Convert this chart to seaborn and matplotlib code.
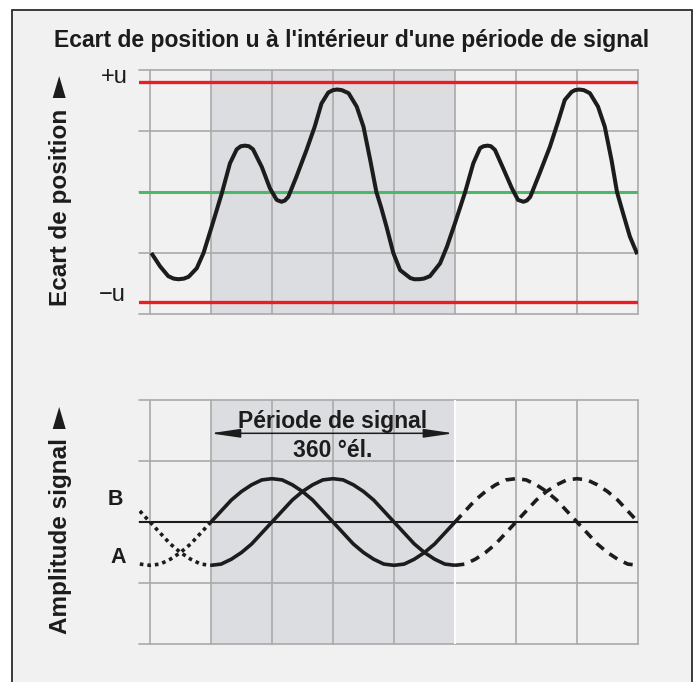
import matplotlib
matplotlib.use("Agg")
import matplotlib.pyplot as plt
from matplotlib.patches import Rectangle, Polygon
import seaborn as sns

# Values (x in electrical degrees, y in grid units)
deg_pos = [-88, -75, -63, -55, -48, -40, -33, -21, -11, 1, 16, 28, 38, 44, 50, 56, 62, 75, 87, 97,
           104, 109, 114, 126, 141, 153, 163, 173, 180, 186, 193, 203, 215, 225, 235, 244, 251, 259, 269,
           279, 294, 300, 307, 314, 323, 338, 348, 360, 375, 387, 397, 402, 408, 413, 419, 431, 444, 453, 461,
           466, 471, 485, 500, 512, 522, 532, 537, 543, 550, 559, 571, 581, 591, 599, 608, 618, 629]
ecart = [-1.00, -1.22, -1.38, -1.42, -1.43, -1.42, -1.39, -1.25, -1.00, -0.57, -0.02, 0.47, 0.70, 0.75, 0.76, 0.75,
         0.70, 0.41, 0.06, -0.13,
         -0.16, -0.14, -0.08, 0.25, 0.69, 1.07, 1.45, 1.63, 1.67, 1.68, 1.67, 1.62, 1.40, 1.07, 0.52, 0.00, -0.25,
         -0.57, -1.00,
         -1.28, -1.41, -1.43, -1.43, -1.42, -1.38, -1.17, -0.90, -0.51, 0.00, 0.47, 0.72, 0.75, 0.76, 0.75, 0.69,
         0.39, 0.06, -0.13, -0.16,
         -0.14, -0.08, 0.31, 0.74, 1.15, 1.51, 1.64, 1.67, 1.68, 1.67, 1.62, 1.40, 1.07, 0.52, 0.00, -0.35, -0.73,
         -1.02]
limite_u = 1.8

# Signal A and B: dotted before the period, solid within, dashed after
deg_avant = [-105, -90, -75, -60, -45, -30, -15, 0]
a_avant = [-0.69, -0.71, -0.69, -0.61, -0.50, -0.36, -0.18, 0.00]
b_avant = [0.18, 0.00, -0.18, -0.36, -0.50, -0.61, -0.69, -0.71]

deg_periode = [0, 15, 30, 45, 60, 75, 90, 105, 120, 135, 150, 165, 180,
               195, 210, 225, 240, 255, 270, 285, 300, 315, 330, 345, 360]
a_periode = [0.00, 0.18, 0.36, 0.50, 0.61, 0.69, 0.71, 0.69, 0.61, 0.50, 0.36, 0.18, 0.00,
             -0.18, -0.36, -0.50, -0.61, -0.69, -0.71, -0.69, -0.61, -0.50, -0.36, -0.18, 0.00]
b_periode = [-0.71, -0.69, -0.61, -0.50, -0.36, -0.18, 0.00, 0.18, 0.36, 0.50, 0.61, 0.69, 0.71,
             0.69, 0.61, 0.50, 0.36, 0.18, 0.00, -0.18, -0.36, -0.50, -0.61, -0.69, -0.71]

deg_apres = [360, 375, 390, 405, 420, 435, 450, 465, 480, 495, 510, 525, 540,
             555, 570, 585, 600, 615, 630]
a_apres = [0.00, 0.18, 0.36, 0.50, 0.61, 0.69, 0.71, 0.69, 0.61, 0.50, 0.36, 0.18, 0.00,
           -0.18, -0.36, -0.50, -0.61, -0.69, -0.71]
b_apres = [-0.71, -0.69, -0.61, -0.50, -0.36, -0.18, 0.00, 0.18, 0.36, 0.50, 0.61, 0.69, 0.71,
           0.69, 0.61, 0.50, 0.36, 0.18, 0.00]

grid_x = [-90, 0, 90, 180, 270, 360, 450, 540, 630]
grid_y = [-2, -1, 0, 1, 2]

sns.set_theme(style="white")
plt.rcParams['font.family'] = ['Liberation Sans Narrow', 'Liberation Sans', 'DejaVu Sans']

W, H = 698, 682
BG = '#f1f1f1'
SHADE = '#dcdde0'
GRID = '#aaaaaa'
INK = '#1c1c1c'


def fx(px):
    return px / W


def fy(py):
    return 1 - py / H


fig = plt.figure(figsize=(W / 100, H / 100), dpi=100, facecolor='white')
fig.patches.append(Rectangle((fx(12), -0.02), fx(692) - fx(12), fy(10) + 0.02,
                             transform=fig.transFigure, facecolor=BG,
                             edgecolor='#2b2b2b', lw=1.3, zorder=-5))


def make_axes(top_px):
    ax = fig.add_axes([fx(139), fy(top_px + 244), fx(638) - fx(139), 244 / H])
    ax.set_facecolor('none')
    ax.set_xlim(-106.2, 630)
    ax.set_ylim(-2, 2)
    for s in ax.spines.values():
        s.set_visible(False)
    ax.set_xticks([])
    ax.set_yticks([])
    ax.axvspan(0, 360, color=SHADE, lw=0, zorder=0)
    for y in grid_y:
        ax.axhline(y, color=GRID, lw=1.2, clip_on=False, zorder=1)
    for x in grid_x:
        ax.axvline(x, color=GRID, lw=1.2, clip_on=False, zorder=1)
    return ax


# --- top panel: position deviation ---
ax1 = make_axes(70)
ax1.axhline(limite_u, color='#ec1c24', lw=2.4, zorder=2)
ax1.axhline(-limite_u, color='#ec1c24', lw=2.4, zorder=2)
ax1.axhline(0, color='#4cb86a', lw=2.2, zorder=2)
sns.lineplot(x=deg_pos, y=ecart, ax=ax1, color=INK, linewidth=2.9, zorder=3,
             solid_capstyle='butt', solid_joinstyle='round')
ax1.set_xlabel('')
ax1.set_ylabel('')

# --- bottom panel: signal amplitude ---
ax2 = make_axes(400)
ax2.axvline(360, color='white', lw=1.4, zorder=1.5)
ax2.axhline(0, color=INK, lw=1.5, zorder=2)
for xs, ya, yb, style in [(deg_avant, a_avant, b_avant, (0, (1.0, 1.1))),
                          (deg_periode, a_periode, b_periode, '-'),
                          (deg_apres, a_apres, b_apres, (0, (2.6, 2.0)))]:
    for ys in (ya, yb):
        sns.lineplot(x=xs, y=ys, ax=ax2, color=INK, linewidth=2.6, zorder=3,
                     linestyle=style, dash_capstyle='butt', solid_capstyle='butt',
                     solid_joinstyle='round')
ax2.set_xlabel('')
ax2.set_ylabel('')

ax2.annotate('', xy=(-1, 1.454), xytext=(358, 1.454),
             arrowprops=dict(arrowstyle='<|-|>,head_length=1.5,head_width=0.22',
                             color=INK, lw=1.1, shrinkA=0, shrinkB=0), zorder=4)
ax2.text(180, 1.54, 'Période de signal', ha='center', va='baseline',
         fontsize=16.5, fontweight='bold', color=INK, zorder=5)
ax2.text(180, 1.066, '360 °él.', ha='center', va='baseline',
         fontsize=16.5, fontweight='bold', color=INK, zorder=5)

# --- texts ---
fig.text(fx(352), fy(46.5), "Ecart de position u à l'intérieur d'une période de signal",
         ha='center', va='baseline', fontsize=16.5, fontweight='bold', color=INK)
fig.text(fx(128), fy(83), '+u', ha='right', va='baseline', fontsize=17, color=INK)
fig.text(fx(126), fy(300.7), '\u2212u', ha='right', va='baseline', fontsize=17, color=INK)
fig.text(fx(115), fy(505), 'B', ha='center', va='baseline', fontsize=15.5,
         fontweight='bold', color=INK)
fig.text(fx(118.5), fy(562.7), 'A', ha='center', va='baseline', fontsize=15.5,
         fontweight='bold', color=INK)

fig.text(fx(67), fy(207), 'Ecart de position', rotation=90, rotation_mode='anchor',
         ha='center', va='baseline', fontsize=17.5, fontweight='bold', color=INK)
fig.text(fx(67), fy(536.5), 'Amplitude signal', rotation=90, rotation_mode='anchor',
         ha='center', va='baseline', fontsize=17.5, fontweight='bold', color=INK)

for tip in (76, 407):
    fig.patches.append(Polygon([(fx(52.7), fy(tip + 22)), (fx(65.7), fy(tip + 22)),
                                (fx(59.2), fy(tip))], closed=True,
                               transform=fig.transFigure, facecolor=INK,
                               edgecolor='none', zorder=2))

fig.savefig('out.png', dpi=100, facecolor='white')
